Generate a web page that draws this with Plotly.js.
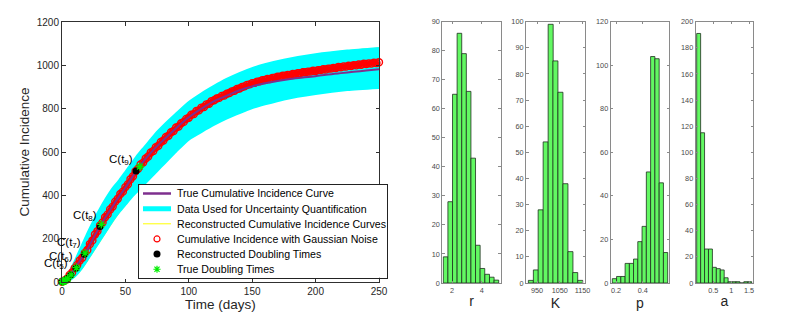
<!DOCTYPE html>
<html>
<head>
<meta charset="utf-8">
<script src="https://cdn.plot.ly/plotly-3.0.1.min.js"></script>
<style>
  html, body { margin: 0; padding: 0; background: #fff; }
  #chart { width: 788px; height: 323px; }
</style>
</head>
<body>
<div id="chart"></div>
<script>
// True cumulative incidence curve
const trueDays = [0, 2, 4, 6, 8, 10, 12, 15, 18, 20, 25, 30, 35, 40, 45, 50, 55, 58.5, 60, 65, 70, 75, 80, 90,
  100, 110, 120, 130, 140, 150, 160, 170, 180, 190, 200, 210, 220, 230, 240, 250];
const trueCum = [1, 6, 16, 30, 45, 62, 80, 105, 132, 150, 205, 258, 305, 350, 395, 435, 480, 512, 524, 562, 596, 627, 655, 710,
  760, 800, 835, 860, 885, 903, 917, 928, 937, 944, 950, 958, 964, 970, 976, 982];

// Noisy observations, every second day from day 0 to day 250
const noisyCum = [
  1, 7, 15, 32, 44, 64, 79, 99, 112, 134,
  148, 175, 192, 219, 235, 261, 275, 299, 312, 335,
  348, 371, 384, 406, 417, 438, 451, 474, 488, 511,
  523, 542, 551, 570, 579, 598, 605, 622, 629, 646,
  653, 669, 675, 691, 697, 713, 718, 733, 739, 753,
  758, 772, 775, 789, 792, 805, 808, 820, 823, 835,
  839, 847, 850, 859, 861, 869, 872, 880, 883, 891,
  893, 900, 903, 910, 912, 918, 919, 925, 926, 931,
  932, 937, 937, 942, 943, 947, 947, 952, 952, 956,
  956, 960, 960, 964, 964, 968, 968, 971, 971, 975,
  974, 978, 978, 982, 981, 985, 985, 988, 988, 992,
  991, 995, 994, 998, 997, 1001, 1000, 1004, 1003, 1007,
  1006, 1009, 1008, 1012, 1011, 1014,
];
const noisyDays = noisyCum.map((_, i) => i * 2);

// Envelope of the cyan curves and the yellow reconstructed curves
const bandDays = [0, 5, 10, 15, 20, 25, 30, 35, 40, 45, 50, 55, 60, 65, 70, 75, 80, 90, 100, 110, 120, 130, 140, 150, 160, 175, 200, 225, 250];
const bandUpper = [2, 35, 90, 155, 220, 280, 335, 385, 430, 465, 505, 545, 585, 620, 655, 690, 720, 775, 828, 868, 903, 935, 962, 985, 1003, 1024, 1049, 1066, 1078];
const bandLower = [0, 8, 28, 62, 105, 150, 195, 240, 285, 325, 360, 395, 425, 455, 485, 515, 545, 605, 660, 695, 728, 757, 782, 805, 822, 845, 870, 888, 898];
const reconUpper = [2, 35, 90, 155, 220, 280, 335, 385, 430, 465, 505, 545, 585, 620, 655, 690, 720, 775, 828, 868, 903, 935, 962, 985, 1003, 1024, 1050, 1068, 1080];
const reconLower = [0, 7, 25, 57, 99, 144, 189, 234, 279, 320, 356, 392, 422, 452, 483, 514, 545, 605, 660, 695, 728, 757, 782, 805, 822, 846, 872, 891, 903];

// Doubling times: reconstructed (black) and true (green)
const doublingDays = [0, 0.6, 1.4, 2.6, 4.2, 6.9, 11, 17.6, 30, 58.4];
const doublingCum = [1, 2, 4, 8, 16, 32, 64, 128, 256, 512];
const trueDoublingDays = [0.2, 0.8, 1.6, 2.8, 4.5, 7.2, 11.4, 18.2, 31, 61.5];
const trueDoublingCum = [1, 2, 4, 8, 16, 33, 66, 133, 266, 533];
const labelledDoublings = [5, 6, 7, 8, 9];

// Parameter histograms (bin centres and counts)
const rCenters = [1.57, 1.88, 2.19, 2.50, 2.81, 3.12, 3.43, 3.74, 4.05, 4.37, 4.68, 4.99];
const rCounts = [9, 28, 65, 86, 79, 66, 43, 13, 5, 3, 2, 1];
const kCenters = [923, 945, 966, 988, 1010, 1031, 1053, 1075, 1097, 1118, 1140];
const kCounts = [1, 5, 28, 54, 99, 85, 73, 38, 12, 4, 1];
const pCenters = [0.188, 0.220, 0.252, 0.284, 0.316, 0.347, 0.379, 0.411, 0.443, 0.475, 0.507, 0.539, 0.571];
const pCounts = [2, 3, 3, 9, 9, 11, 19, 26, 51, 104, 103, 46, 14];
const aCenters = [0.09, 0.20, 0.31, 0.42, 0.53, 0.64, 0.75, 0.86, 0.97, 1.08, 1.19, 1.30, 1.41, 1.52];
const aCounts = [191, 115, 26, 26, 12, 11, 10, 4, 1, 1, 1, 0, 1, 1];

const legendLabels = [
  "True Cumulative Incidence Curve",
  "Data Used for Uncertainty Quantification",
  "Reconstructed Cumulative Incidence Curves",
  "Cumulative Incidence with Gaussian Noise",
  "Reconstructed Doubling Times",
  "True Doubling Times",
];

const W = 788;
const H = 323;
const FONT = "Liberation Sans, Arial, Helvetica, sans-serif";
const PURPLE = "#7e2f8e";
const CYAN = "#00ffff";
const YELLOW = "#ffff00";
const RED = "#ff0000";
const GREEN = "#00ee00";
const BAR_GREEN = "#62f862";

const px = (x) => x / W;
const py = (y) => 1 - y / H;

function lineTrace(x, y, color, width, extra) {
  return Object.assign({
    x, y, type: "scatter", mode: "lines",
    line: { color, width, shape: "spline", smoothing: 0.6 },
    hoverinfo: "skip",
  }, extra || {});
}

// Yellow curves go underneath the cyan ones, peeking out only at the edges.
const mainTraces = [
  lineTrace(bandDays, reconLower, YELLOW, 1.2),
  lineTrace(bandDays, reconUpper, YELLOW, 1.2),
  lineTrace(bandDays, bandLower, CYAN, 3),
  lineTrace(bandDays, bandUpper, CYAN, 3, { fill: "tonexty", fillcolor: CYAN }),
  {
    x: noisyDays, y: noisyCum, type: "scatter", mode: "lines+markers", cliponaxis: false,
    line: { color: RED, width: 5 },
    marker: { symbol: "circle-open", color: RED, size: 7, line: { width: 1.4 } },
  },
  lineTrace(trueDays, trueCum, PURPLE, 2),
  {
    x: doublingDays, y: doublingCum, type: "scatter", mode: "markers", cliponaxis: false,
    marker: { symbol: "circle", color: "#000", size: 7 },
  },
  {
    x: trueDoublingDays, y: trueDoublingCum, type: "scatter", mode: "markers", cliponaxis: false,
    marker: { symbol: "asterisk-open", color: GREEN, size: 7, line: { color: GREEN, width: 1.3 } },
  },
];

// Histogram subplots: [centres, counts, axis suffix]
const hists = [
  [rCenters, rCounts, "2"],
  [kCenters, kCounts, "3"],
  [pCenters, pCounts, "4"],
  [aCenters, aCounts, "5"],
];

const histTraces = hists.map(([centers, counts, n]) => ({
  x: centers, y: counts, type: "bar",
  width: centers[1] - centers[0],
  xaxis: "x" + n, yaxis: "y" + n,
  marker: { color: BAR_GREEN, line: { color: "#1e2e1e", width: 0.8 } },
  hoverinfo: "skip",
}));

// Legend drawn as its own small subplot, in pixel units
const LEG = { x0: 139.3, x1: 387.3, y0: 185, y1: 277.7, row0: 193.5, step: 15.15, sx0: 143, sx1: 171, text: 174.5 };
const rowY = (i) => LEG.row0 + i * LEG.step;
const legendStyles = [
  { kind: "line", color: PURPLE, width: 2.5 },
  { kind: "line", color: CYAN, width: 5 },
  { kind: "line", color: YELLOW, width: 1 },
  { kind: "marker", marker: { symbol: "circle-open", color: RED, size: 6, line: { width: 1.2 } } },
  { kind: "marker", marker: { symbol: "circle", color: "#000", size: 7 } },
  { kind: "marker", marker: { symbol: "asterisk-open", color: GREEN, size: 6, line: { color: GREEN, width: 1.2 } } },
];
const legendTraces = legendStyles.map((s, i) => s.kind === "line"
  ? { x: [LEG.sx0, LEG.sx1], y: [rowY(i), rowY(i)], type: "scatter", mode: "lines",
      line: { color: s.color, width: s.width }, xaxis: "x6", yaxis: "y6", hoverinfo: "skip" }
  : { x: [(LEG.sx0 + LEG.sx1) / 2], y: [rowY(i)], type: "scatter", mode: "markers",
      marker: s.marker, xaxis: "x6", yaxis: "y6", hoverinfo: "skip" });

const frame = {
  showline: true, mirror: "allticks", ticks: "inside", showgrid: false, zeroline: false, fixedrange: true,
};

const layout = {
  width: W, height: H,
  margin: { l: 0, r: 0, t: 0, b: 0 },
  paper_bgcolor: "#fff", plot_bgcolor: "#fff",
  showlegend: false, hovermode: false,
  font: { family: FONT, color: "#262626" },
  xaxis: Object.assign({}, frame, {
    domain: [px(62), px(379)], range: [0, 250], tickvals: [0, 50, 100, 150, 200, 250],
    ticklen: 3.5, linecolor: "#303030", tickcolor: "#303030", linewidth: 1,
    tickfont: { size: 10, color: "#262626" },
    title: { text: "Time (days)", font: { size: 13.5, color: "#262626" }, standoff: 3 },
    anchor: "y",
  }),
  yaxis: Object.assign({}, frame, {
    domain: [py(282), py(22)], range: [0, 1200], dtick: 200,
    ticklen: 3.5, linecolor: "#303030", tickcolor: "#303030", linewidth: 1,
    tickfont: { size: 10, color: "#262626" },
    title: { text: "Cumulative Incidence", font: { size: 13.5, color: "#262626" }, standoff: 4 },
    anchor: "x",
  }),
  annotations: [],
};

const histAxes = [
  { n: "2", xd: [442.3, 500.7], xr: [1.347, 5.28], ticks: [2, 4], yr: [0, 90], dy: 10, title: "r" },
  { n: "3", xd: [526, 585], xr: [901.6, 1161], ticks: [950, 1050, 1150], yr: [0, 100], dy: 10, title: "K" },
  { n: "4", xd: [610.7, 669.3], xr: [0.16, 0.599], ticks: [0.2, 0.4], yr: [0, 120], dy: 20, title: "p" },
  { n: "5", xd: [695.7, 753.3], xr: [0.007, 1.62], ticks: [0.5, 1, 1.5], yr: [0, 200], dy: 20, title: "a" },
];

for (const h of histAxes) {
  const common = { ticklen: 2.5, linecolor: "#8a8a8a", tickcolor: "#8a8a8a", linewidth: 1,
    tickfont: { size: 7.3, color: "#4a4a4a" } };
  layout["xaxis" + h.n] = Object.assign({}, frame, common, {
    domain: [px(h.xd[0]), px(h.xd[1])], range: h.xr, tickvals: h.ticks, anchor: "y" + h.n,
    title: { text: h.title, font: { size: 14, color: "#262626" }, standoff: 2 },
  });
  layout["yaxis" + h.n] = Object.assign({}, frame, common, {
    domain: [py(283), py(21.7)], range: h.yr, dtick: h.dy, anchor: "x" + h.n,
  });
}

layout.xaxis6 = {
  domain: [px(LEG.x0), px(LEG.x1)], range: [LEG.x0, LEG.x1], anchor: "y6",
  showline: true, mirror: true, linecolor: "#222", linewidth: 1, ticks: "", showticklabels: false,
  showgrid: false, zeroline: false, fixedrange: true,
};
layout.yaxis6 = {
  domain: [py(LEG.y1), py(LEG.y0)], range: [LEG.y1, LEG.y0], anchor: "x6",
  showline: true, mirror: true, linecolor: "#222", linewidth: 1, ticks: "", showticklabels: false,
  showgrid: false, zeroline: false, fixedrange: true,
};

legendLabels.forEach((label, i) => {
  layout.annotations.push({
    xref: "x6", yref: "y6", x: LEG.text, y: rowY(i), text: label, showarrow: false,
    xanchor: "left", yanchor: "middle", font: { size: 10.6, color: "#000" },
  });
});

for (const k of labelledDoublings) {
  layout.annotations.push({
    xref: "x", yref: "y", x: doublingDays[k], y: doublingCum[k],
    text: `C(t<sub>${k}</sub>)`, showarrow: false,
    xanchor: "right", yanchor: "bottom", xshift: -1, yshift: 2,
    font: { size: 11.5, color: "#000" },
  });
}

Plotly.newPlot("chart", mainTraces.concat(histTraces, legendTraces), layout, { displayModeBar: false, staticPlot: true });
</script>
</body>
</html>
